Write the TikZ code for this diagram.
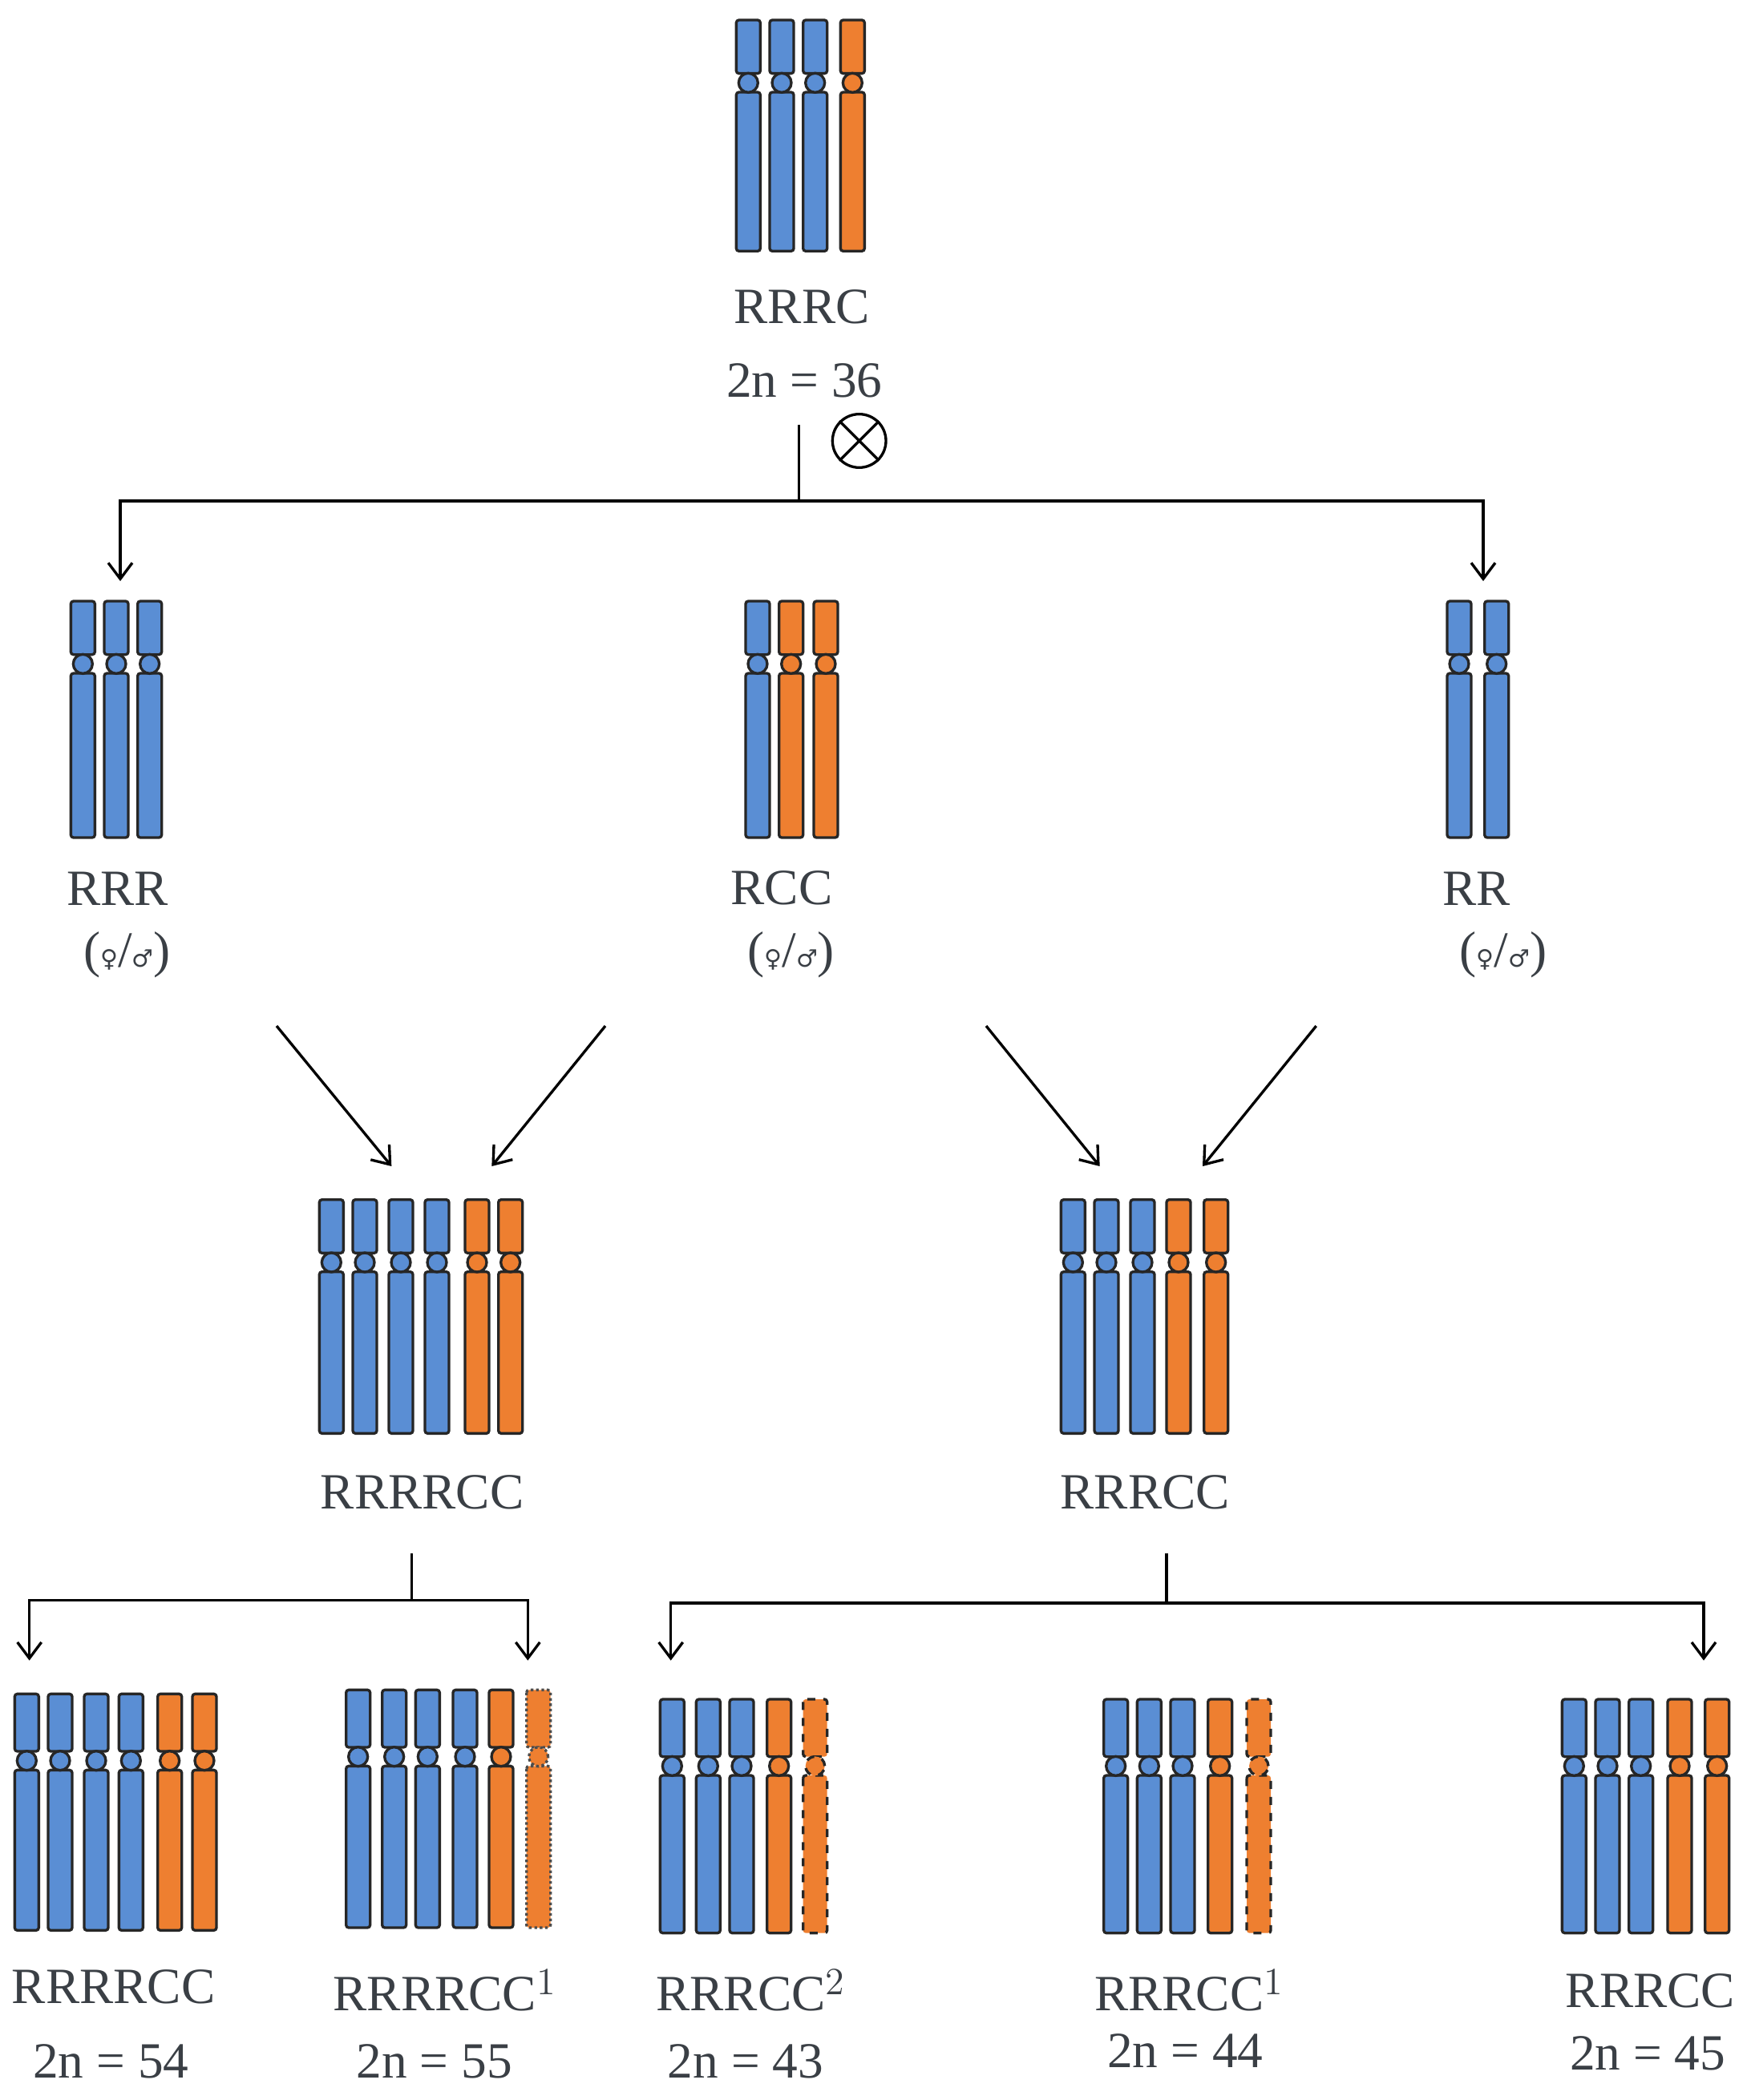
\documentclass[tikz,border=0pt]{standalone}
\usepackage{fontspec}
\setmainfont{Liberation Serif}
\newfontfamily\symfont{DejaVu Sans}
\usetikzlibrary{arrows.meta}
\definecolor{rblue}{HTML}{5A8ED4}
\definecolor{corange}{HTML}{EE7F30}
\definecolor{lbl}{HTML}{3A3F45}
% chromosome: x, top, bottom, centromere, colour, extra style
\newcommand\chrom[6]{%
  \draw[chr,fill=#5,#6] (#1-9,#2) rectangle (#1+9,#4-7);
  \draw[chr,fill=#5,#6] (#1-9,#4+7) rectangle (#1+9,#3);
  \draw[chr,fill=#5,#6] (#1,#4) circle [radius=3.6pt];
}
\newcommand\sym{{\symfont\small ♀}/{\symfont\small ♂}}
\begin{document}
\begin{tikzpicture}[x=0.5pt,y=-0.5pt,
  chr/.style={line width=1pt,draw=black!85,rounded corners=1pt},
  lab/.style={text=lbl,font=\fontsize{19}{22}\selectfont},
  link/.style={line width=1pt},
  arr/.style={line width=1pt,-{Straight Barb[length=6pt,width=9pt]}}]
\useasboundingbox (0,0) rectangle (1310,1572);
% top
\foreach \x/\c in {560/rblue,585/rblue,610/rblue,638/corange}
  \chrom{\x}{15}{188}{62}{\c}{};
\node[lab] (rrrc) at (600,230) {RRRC};
\node[lab] (n36) at (602,285) {2n = 36};
\node[draw,circle,line width=1pt,minimum size=20pt,inner sep=0pt] (self) at (643,330) {};
\draw[line width=1pt] (self.north west) -- (self.south east) (self.north east) -- (self.south west);
\coordinate (t0) at (598,318);
\coordinate (t1) at (598,375);
\coordinate (tl) at (90,375);
\coordinate (tr) at (1110,375);
\coordinate (rrr-in) at (90,435);
\coordinate (rr-in) at (1110,435);
\draw[link] (t0) -- (t1);
\draw[arr] (t1) -- (tl) -- (rrr-in);
\draw[arr] (t1) -- (tr) -- (rr-in);
% second row
\foreach \x in {62,87,112} \chrom{\x}{450}{627}{497}{rblue}{};
\foreach \x/\c in {567/rblue,592/corange,618/corange} \chrom{\x}{450}{627}{497}{\c}{};
\foreach \x in {1092,1120} \chrom{\x}{450}{627}{497}{rblue}{};
\node[lab] (rrr) at (88,665) {RRR};
\node[lab] (rrr-s) at (95,715) {(\sym)};
\node[lab] (rcc) at (585,665) {RCC};
\node[lab] (rcc-s) at (592,715) {(\sym)};
\node[lab] (rr) at (1105,665) {RR};
\node[lab] (rr-s) at (1125,715) {(\sym)};
\coordinate (a1) at (207,768); \coordinate (a1e) at (293,873);
\coordinate (a2) at (453,768); \coordinate (a2e) at (368,873);
\coordinate (a3) at (738,768); \coordinate (a3e) at (823,873);
\coordinate (a4) at (985,768); \coordinate (a4e) at (900,873);
\foreach \s/\e in {a1/a1e,a2/a2e,a3/a3e,a4/a4e} \draw[arr] (\s) -- (\e);
% third row
\foreach \x/\c in {248/rblue,273/rblue,300/rblue,327/rblue,357/corange,382/corange}
  \chrom{\x}{898}{1073}{945}{\c}{};
\foreach \x/\c in {803/rblue,828/rblue,855/rblue,882/corange,910/corange}
  \chrom{\x}{898}{1073}{945}{\c}{};
\node[lab] (hexa) at (316,1117) {RRRRCC};
\node[lab] (penta) at (857,1117) {RRRCC};
\coordinate (l0) at (308,1163); \coordinate (l1) at (308,1198);
\coordinate (ll) at (22,1198); \coordinate (lr) at (395,1198);
\coordinate (r0) at (873,1163); \coordinate (r1) at (873,1200);
\coordinate (rl) at (502,1200); \coordinate (rr2) at (1275,1200);
\draw[link] (l0) -- (l1);
\draw[arr] (l1) -- (ll) -- (22,1243);
\draw[arr] (l1) -- (lr) -- (395,1243);
\draw[link] (r0) -- (r1);
\draw[arr] (r1) -- (rl) -- (502,1243);
\draw[arr] (r1) -- (rr2) -- (1275,1243);
% bottom row
\foreach \x/\c in {20/rblue,45/rblue,72/rblue,98/rblue,127/corange,153/corange}
  \chrom{\x}{1268}{1445}{1318}{\c}{};
\foreach \x/\c in {268/rblue,295/rblue,320/rblue,348/rblue,375/corange}
  \chrom{\x}{1265}{1443}{1315}{\c}{};
\chrom{403}{1265}{1443}{1315}{corange}{densely dotted,draw=black!70};
\foreach \x/\c in {503/rblue,530/rblue,555/rblue,583/corange}
  \chrom{\x}{1272}{1447}{1322}{\c}{};
\chrom{610}{1272}{1447}{1322}{corange}{dashed};
\foreach \x/\c in {835/rblue,860/rblue,885/rblue,913/corange}
  \chrom{\x}{1272}{1447}{1322}{\c}{};
\chrom{942}{1272}{1447}{1322}{corange}{dashed};
\foreach \x/\c in {1178/rblue,1203/rblue,1228/rblue,1257/corange,1285/corange}
  \chrom{\x}{1272}{1447}{1322}{\c}{};
\node[lab] (b1) at (85,1487) {RRRRCC};
\node[lab] (b1n) at (83,1543) {2n = 54};
\node[lab] (b2) at (333,1490) {RRRRCC$^{1}$};
\node[lab] (b2n) at (325,1543) {2n = 55};
\node[lab] (b3) at (562,1490) {RRRCC$^{2}$};
\node[lab] (b3n) at (558,1543) {2n = 43};
\node[lab] (b4) at (890,1490) {RRRCC$^{1}$};
\node[lab] (b4n) at (887,1535) {2n = 44};
\node[lab] (b5) at (1235,1490) {RRRCC};
\node[lab] (b5n) at (1233,1537) {2n = 45};
\end{tikzpicture}
\end{document}
